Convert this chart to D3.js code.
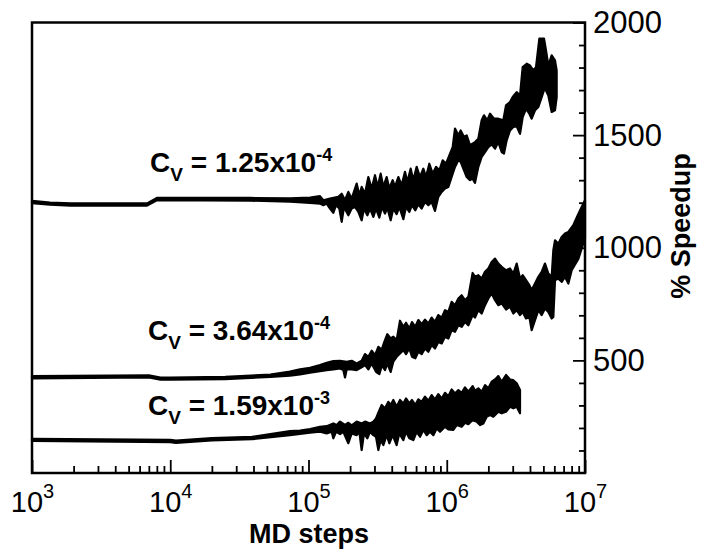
<!DOCTYPE html>
<html>
<head>
<meta charset="utf-8">
<script src="https://cdn.jsdelivr.net/npm/d3@7"></script>
<style>
  body { margin: 0; background: #fff; }
  svg { font-family: 'Liberation Sans', Arial, sans-serif; }
</style>
</head>
<body>
<svg class="svg"></svg>
<script>
// MD steps vs % speedup, three vacancy concentrations.
// Each run is a noisy trace drawn as a filled band: upper and lower edge, [steps, % speedup]
const cv125Upper = [
  [1000, 1208], [1350, 1201], [1900, 1197], [6800, 1197], [8000, 1221], [38000, 1221],
  [73500, 1219], [102600, 1223], [121100, 1229], [128000, 1211], [143100, 1218], [164400, 1226],
  [173800, 1240], [183700, 1211], [194200, 1248], [205300, 1218], [223100, 1285], [233200, 1233],
  [242400, 1270], [256300, 1240], [270900, 1314], [286400, 1263], [302700, 1322], [316500, 1270],
  [332700, 1329], [347700, 1270], [367500, 1314], [384200, 1263], [406200, 1300], [422300, 1270],
  [446400, 1314], [471900, 1277], [498900, 1337], [518700, 1292], [548300, 1351], [573200, 1300],
  [605900, 1359], [640500, 1314], [677000, 1351], [707700, 1314], [748200, 1373], [790900, 1329],
  [836100, 1359], [883900, 1344], [934400, 1388], [987600, 1373], [1044000, 1410], [1104000, 1447],
  [1147000, 1529], [1213000, 1499], [1261000, 1521], [1333000, 1492], [1394000, 1499], [1473000, 1455],
  [1601000, 1469], [1692000, 1484], [1789000, 1566], [1860000, 1588], [1966000, 1566], [2056000, 1595],
  [2197000, 1573], [2361000, 1573], [2566000, 1566], [2683000, 1632], [2868000, 1647], [2999000, 1669],
  [3205000, 1691], [3388000, 1676], [3542000, 1802], [3786000, 1817], [4002000, 1809], [4230000, 1787],
  [4422000, 1802], [4675000, 1928], [5052000, 1928], [5223000, 1876], [5430000, 1809], [5741000, 1854],
  [6067000, 1832], [6238000, 1787]
];
const cv125Lower = [
  [1000, 1198], [1350, 1191], [1900, 1187], [6800, 1187], [8000, 1211], [38000, 1209],
  [73500, 1205], [102600, 1199], [121100, 1196], [128000, 1189], [135300, 1196], [143100, 1174],
  [151200, 1155], [158100, 1189], [167100, 1174], [173800, 1115], [180600, 1181], [194200, 1144],
  [205300, 1174], [217000, 1181], [229400, 1159], [242400, 1122], [252000, 1174], [266500, 1144],
  [278600, 1174], [294400, 1137], [307800, 1174], [325400, 1134], [340100, 1181], [357500, 1152],
  [371600, 1178], [392900, 1122], [410700, 1174], [434100, 1149], [453900, 1181], [485300, 1127],
  [507300, 1181], [536200, 1159], [560600, 1189], [592600, 1166], [623000, 1193], [658500, 1174],
  [696100, 1203], [735800, 1189], [777900, 1203], [822200, 1164], [869200, 1226], [919000, 1248],
  [971400, 1263], [1027000, 1270], [1085000, 1314], [1147000, 1359], [1213000, 1388], [1261000, 1381],
  [1318000, 1351], [1394000, 1314], [1473000, 1300], [1539000, 1307], [1601000, 1288], [1692000, 1359],
  [1789000, 1403], [1891000, 1425], [1999000, 1447], [2113000, 1459], [2234000, 1440], [2361000, 1469],
  [2496000, 1425], [2594000, 1418], [2713000, 1477], [2868000, 1521], [3032000, 1536], [3205000, 1539],
  [3388000, 1506], [3542000, 1580], [3744000, 1617], [3958000, 1595], [4115000, 1573], [4349000, 1610],
  [4598000, 1625], [4861000, 1669], [5137000, 1713], [5281000, 1691], [5430000, 1676], [5741000, 1603],
  [6067000, 1610], [6238000, 1669]
];

const cv364Upper = [
  [1000, 430], [7000, 434], [8500, 424], [10000, 424], [25000, 427], [53000, 437],
  [73500, 450], [86800, 460], [102600, 467], [121100, 479], [135300, 489], [151200, 497],
  [169000, 498], [188900, 494], [205300, 498], [223100, 486], [242400, 498], [256300, 528],
  [270900, 516], [286400, 543], [302700, 523], [320000, 560], [338300, 548], [357500, 590],
  [371600, 616], [392900, 597], [410700, 605], [434100, 590], [459100, 676], [485300, 649],
  [507300, 667], [536200, 642], [560600, 670], [592600, 649], [623000, 679], [658500, 661],
  [696100, 681], [735800, 664], [777900, 690], [822200, 671], [869200, 701], [919000, 690],
  [971400, 723], [1027000, 715], [1085000, 760], [1147000, 745], [1213000, 775], [1282000, 789],
  [1355000, 767], [1433000, 782], [1539000, 888], [1601000, 871], [1692000, 878], [1789000, 863],
  [1891000, 893], [1999000, 908], [2113000, 937], [2234000, 952], [2361000, 930], [2496000, 915],
  [2683000, 900], [2868000, 908], [3032000, 885], [3205000, 930], [3388000, 863], [3542000, 878],
  [3744000, 856], [3958000, 834], [4115000, 812], [4349000, 841], [4598000, 871], [4861000, 893],
  [5137000, 930], [5430000, 885], [5741000, 871], [5902000, 989], [6067000, 1033], [6414000, 1018],
  [6781000, 1048], [7168000, 1063], [7578000, 1070], [8230000, 1100], [8950000, 1150], [9730000, 1196],
  [10000000, 1211]
];
const cv364Lower = [
  [1000, 420], [7000, 424], [8500, 414], [10000, 414], [25000, 417], [53000, 427],
  [73500, 432], [86800, 438], [102600, 445], [121100, 452], [135300, 457], [151200, 460],
  [169000, 464], [178600, 457], [183700, 424], [188900, 460], [205300, 460], [223100, 457],
  [242400, 469], [256300, 479], [270900, 460], [286400, 486], [307800, 449], [325400, 439],
  [340100, 479], [357500, 457], [371600, 486], [392900, 449], [410700, 494], [434100, 516],
  [459100, 531], [485300, 545], [507300, 528], [536200, 553], [560600, 516], [592600, 509],
  [623000, 538], [658500, 528], [696100, 553], [735800, 538], [777900, 568], [822200, 553],
  [869200, 582], [919000, 575], [971400, 605], [1027000, 597], [1085000, 634], [1147000, 627],
  [1213000, 656], [1282000, 649], [1355000, 671], [1433000, 656], [1539000, 701], [1601000, 690],
  [1692000, 723], [1789000, 708], [1891000, 745], [1999000, 775], [2113000, 797], [2234000, 767],
  [2361000, 745], [2496000, 753], [2683000, 726], [2868000, 738], [3032000, 708], [3205000, 723],
  [3388000, 701], [3542000, 715], [3744000, 686], [3958000, 693], [4115000, 634], [4349000, 679],
  [4598000, 723], [4861000, 701], [5137000, 730], [5430000, 715], [5741000, 686], [5902000, 693],
  [6067000, 856], [6414000, 863], [6781000, 849], [7168000, 871], [7578000, 841], [8010000, 900],
  [8950000, 950], [9730000, 1020], [10000000, 1040]
];

const cv159Upper = [
  [1000, 152], [10000, 147], [11000, 144], [20000, 155], [39000, 160], [73500, 186],
  [86800, 188], [102600, 195], [121100, 205], [135300, 208], [151200, 220], [159900, 213],
  [169000, 228], [183700, 213], [194200, 223], [205300, 211], [223100, 228], [242400, 220],
  [256300, 228], [278600, 220], [294400, 228], [307800, 242], [320000, 268], [338300, 302],
  [357500, 287], [378100, 316], [392900, 302], [410700, 324], [434100, 294], [459100, 324],
  [485300, 309], [507300, 331], [536200, 309], [560600, 324], [592600, 302], [623000, 327],
  [658500, 316], [696100, 339], [735800, 321], [777900, 346], [822200, 327], [869200, 350],
  [919000, 331], [971400, 356], [1027000, 341], [1085000, 371], [1147000, 353], [1213000, 368],
  [1282000, 356], [1355000, 380], [1433000, 361], [1539000, 386], [1601000, 365], [1692000, 376],
  [1789000, 361], [1891000, 390], [1999000, 376], [2113000, 405], [2234000, 415], [2361000, 430],
  [2496000, 405], [2683000, 435], [2868000, 415], [3032000, 412], [3205000, 398], [3388000, 368]
];
const cv159Lower = [
  [1000, 142], [10000, 137], [11000, 134], [20000, 145], [39000, 150], [73500, 168],
  [86800, 173], [102600, 179], [121100, 183], [135300, 176], [147100, 183], [151200, 154],
  [158100, 183], [169000, 173], [178600, 183], [194200, 132], [205300, 176], [223100, 168],
  [233200, 183], [242400, 102], [252000, 176], [266500, 154], [278600, 183], [294400, 168],
  [307800, 161], [320000, 102], [332700, 146], [347700, 124], [367500, 168], [384200, 132],
  [406200, 168], [434100, 124], [453900, 176], [485300, 146], [507300, 183], [536200, 154],
  [573200, 146], [605900, 183], [640500, 161], [677000, 191], [715700, 168], [756800, 183],
  [799900, 168], [845500, 198], [893900, 183], [971400, 205], [1027000, 194], [1116000, 191],
  [1180000, 213], [1282000, 205], [1355000, 223], [1433000, 217], [1539000, 235], [1646000, 228],
  [1740000, 213], [1839000, 220], [1945000, 250], [2056000, 257], [2173000, 250], [2361000, 272],
  [2496000, 265], [2683000, 272], [2868000, 294], [3032000, 287], [3205000, 294], [3388000, 265]
];

const runs = [
  [cv125Upper, cv125Lower],
  [cv364Upper, cv364Lower],
  [cv159Upper, cv159Lower]
];

// annotation: [steps, % speedup at baseline, mantissa, exponent]
const labels = [
  [7150, 1335, '1.25', '-4'],
  [6900, 590, '3.64', '-4'],
  [6900, 257, '1.59', '-3']
];

const xMajor = [1e3, 1e4, 1e5, 1e6, 1e7];
const yMajor = [500, 1000, 1500, 2000];

const width = 708;
const height = 556;
const margin = { top: 22.5, right: 123, bottom: 83, left: 32 };

const svg = d3.select('.svg')
  .attr('width', width)
  .attr('height', height);

const x = d3.scaleLog()
  .domain([1e3, 1e7])
  .range([margin.left, width - margin.right]);

const y = d3.scaleLinear()
  .domain([0, 2000])
  .range([height - margin.bottom, margin.top]);

const xMinor = [];
xMajor.slice(0, -1).forEach(d => {
  for (let k = 2; k < 10; k++) xMinor.push(d * k);
});
const yMinor = d3.range(100, 2000, 100).filter(d => d % 500 !== 0);

// bands: upper edge left to right, lower edge back
const outline = d3.line()
  .x(d => x(d[0]))
  .y(d => y(d[1]));

svg.append('g')
  .selectAll('path')
  .data(runs)
  .join('path')
  .attr('d', d => outline(d[0].concat(d[1].slice().reverse())) + 'Z')
  .attr('fill', '#000')
  .attr('stroke', '#000')
  .attr('stroke-width', 2.2)
  .attr('stroke-linejoin', 'round');

// bottom axis, ticks inward
const xAxisMinor = svg.append('g')
  .attr('transform', `translate(0,${y(0)})`)
  .call(d3.axisBottom(x).tickValues(xMinor).tickSize(-7).tickFormat(''));

const xAxis = svg.append('g')
  .attr('transform', `translate(0,${y(0)})`)
  .call(d3.axisBottom(x).tickValues(xMajor).tickSize(-13).tickFormat(''));

xAxis.selectAll('.tick text')
  .attr('y', 39)
  .attr('dy', 0)
  .style('font-size', '29px')
  .each(function (d) {
    const t = d3.select(this);
    t.append('tspan').text('10');
    t.append('tspan')
      .attr('dy', -14)
      .style('font-size', '20px')
      .text(Math.round(Math.log10(d)));
  });

// right axis, ticks inward
const yAxisMinor = svg.append('g')
  .attr('transform', `translate(${x(1e7)},0)`)
  .call(d3.axisRight(y).tickValues(yMinor).tickSize(-6).tickFormat(''));

const yAxis = svg.append('g')
  .attr('transform', `translate(${x(1e7)},0)`)
  .call(d3.axisRight(y).tickValues(yMajor).tickSize(-12).tickPadding(8).tickFormat(d3.format('d')));

yAxis.selectAll('.tick text')
  .style('font-size', '31px');

[xAxisMinor, xAxis, yAxisMinor, yAxis].forEach(g => {
  g.select('.domain').remove();
  g.selectAll('.tick line').attr('stroke', '#000').attr('stroke-width', 1.8);
  g.selectAll('.tick text').attr('fill', '#000');
});

// frame
svg.append('rect')
  .attr('x', x(1e3))
  .attr('y', y(2000))
  .attr('width', x(1e7) - x(1e3))
  .attr('height', y(0) - y(2000))
  .attr('fill', 'none')
  .attr('stroke', '#000')
  .attr('stroke-width', 2.5);

// axis titles
svg.append('text')
  .attr('x', 309)
  .attr('y', 543)
  .attr('text-anchor', 'middle')
  .style('font-size', '27px')
  .style('font-weight', 'bold')
  .text('MD steps');

svg.append('text')
  .attr('transform', 'translate(690,226) rotate(-90)')
  .attr('text-anchor', 'middle')
  .style('font-size', '27px')
  .style('font-weight', 'bold')
  .text('% Speedup');

// curve annotations
const ann = svg.append('g')
  .selectAll('text')
  .data(labels)
  .join('text')
  .attr('x', d => x(d[0]))
  .attr('y', d => y(d[1]))
  .style('font-size', '28px')
  .style('font-weight', 'bold');

ann.append('tspan').text('C');
ann.append('tspan')
  .attr('dy', 9)
  .style('font-size', '19px')
  .text('V');
ann.append('tspan')
  .attr('dy', -9)
  .text(d => ` = ${d[2]}x10`);
ann.append('tspan')
  .attr('dy', -11)
  .style('font-size', '18px')
  .text(d => d[3]);
</script>
</body>
</html>
